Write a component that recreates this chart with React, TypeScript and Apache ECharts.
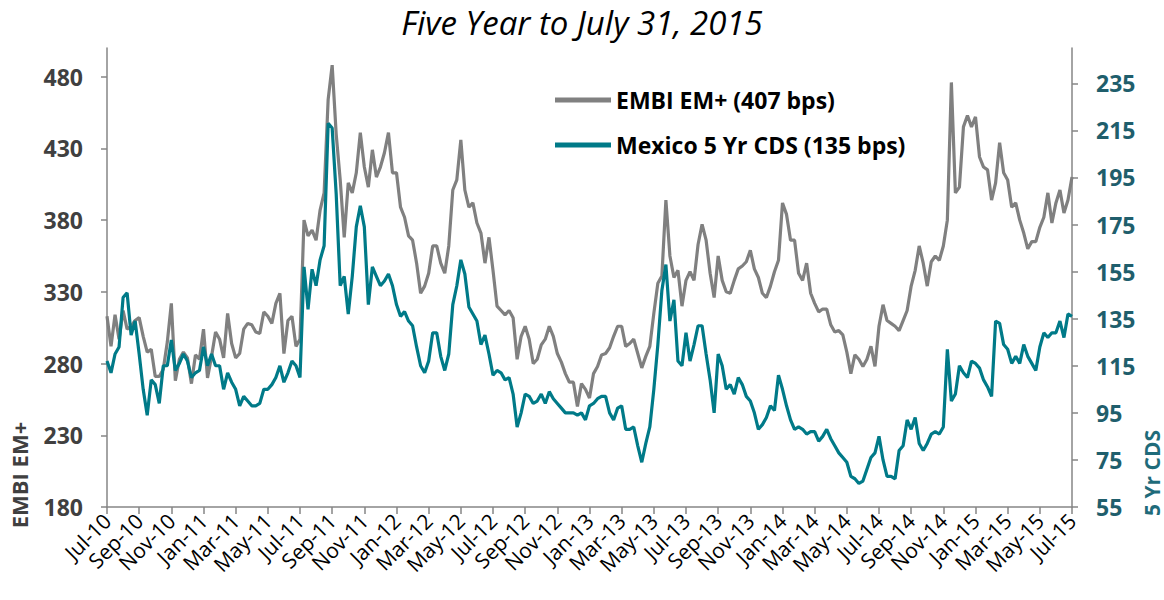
import React, { useEffect, useRef } from "react";
import * as echarts from "echarts";

// readings every quarter month, starting Jul-2010 (x = months since Jul-10)
const STEP = 0.25;
const xTickLabels = [
  "Jul-10", "Sep-10", "Nov-10", "Jan-11", "Mar-11", "May-11", "Jul-11", "Sep-11",
  "Nov-11", "Jan-12", "Mar-12", "May-12", "Jul-12", "Sep-12", "Nov-12", "Jan-13",
  "Mar-13", "May-13", "Jul-13", "Sep-13", "Nov-13", "Jan-14", "Mar-14", "May-14",
  "Jul-14", "Sep-14", "Nov-14", "Jan-15", "Mar-15", "May-15", "Jul-15",
];
const xTicks = xTickLabels.map((_, i) => i * 2);
const leftTicks = [180, 230, 280, 330, 380, 430, 480];
const rightTicks = [55, 75, 95, 115, 135, 155, 175, 195, 215, 235];

const embiName = "EMBI EM+ (407 bps)";
const cdsName = "Mexico 5 Yr CDS (135 bps)";

const embi = [
  313, 292, 314, 297,
  317, 304, 306, 310,
  312, 299, 288, 290,
  271, 271, 276, 295,
  322, 268, 283, 288,
  284, 266, 286, 283,
  304, 270, 285, 302,
  297, 284, 315, 294,
  284, 287, 304, 308,
  307, 302, 301, 316,
  313, 308, 322, 329,
  287, 310, 313, 292,
  297, 380, 369, 373,
  366, 387, 399, 464,
  488, 440, 408, 368,
  406, 399, 413, 441,
  417, 403, 429, 410,
  417, 427, 441, 413,
  413, 389, 382, 369,
  366, 350, 329, 334,
  343, 362, 362, 350,
  343, 362, 401, 408,
  436, 401, 389, 392,
  378, 371, 350, 368,
  345, 320, 317, 314,
  317, 312, 283, 299,
  306, 297, 280, 283,
  293, 297, 306, 299,
  287, 281, 273, 267,
  267, 250, 266, 262,
  256, 273, 278, 286,
  287, 291, 299, 306,
  306, 292, 294, 297,
  287, 277, 285, 292,
  315, 336, 341, 394,
  355, 340, 345, 320,
  338, 344, 338, 363,
  377, 366, 343, 326,
  355, 338, 330, 329,
  338, 346, 348, 351,
  359, 346, 340, 329,
  326, 334, 344, 352,
  392, 384, 366, 366,
  343, 338, 350, 329,
  322, 316, 318, 318,
  307, 302, 303, 300,
  288, 273, 286, 283,
  278, 283, 292, 278,
  306, 321, 310, 308,
  306, 303, 310, 317,
  334, 345, 362, 350,
  334, 351, 355, 352,
  362, 380, 476, 399,
  403, 445, 453, 445,
  452, 424, 417, 415,
  394, 406, 434, 413,
  408, 389, 392, 380,
  371, 360, 365, 365,
  375, 382, 399, 378,
  392, 401, 385, 394,
  410,
];

const cds = [
  117, 112, 120, 123,
  144, 146, 128, 134,
  120, 105, 94, 109,
  107, 99, 115, 115,
  126, 113, 116, 120,
  117, 110, 112, 113,
  123, 115, 120, 115,
  115, 105, 112, 108,
  105, 98, 102, 100,
  98, 98, 99, 105,
  105, 107, 110, 115,
  108, 112, 117, 115,
  110, 157, 139, 156,
  149, 160, 166, 218,
  216, 188, 149, 153,
  137, 153, 174, 183,
  174, 141, 157, 153,
  149, 151, 154, 149,
  141, 136, 138, 134,
  132, 123, 115, 112,
  117, 129, 129, 119,
  113, 120, 141, 149,
  160, 154, 140, 137,
  134, 124, 128, 120,
  111, 113, 112, 109,
  110, 103, 89, 95,
  103, 102, 99, 100,
  103, 99, 104, 101,
  99, 97, 95, 95,
  95, 94, 95, 92,
  98, 99, 101, 102,
  102, 95, 92, 97,
  98, 88, 88, 89,
  81, 74, 82, 89,
  105, 124, 147, 158,
  134, 143, 117, 115,
  129, 117, 124, 132,
  132, 120, 109, 95,
  120, 115, 105, 107,
  103, 110, 107, 102,
  100, 95, 88, 90,
  93, 98, 96, 111,
  105, 98, 92, 88,
  89, 88, 86, 87,
  87, 83, 85, 88,
  84, 81, 78, 76,
  74, 68, 67, 65,
  66, 71, 76, 78,
  85, 75, 68, 68,
  67, 79, 81, 92,
  88, 93, 82, 79,
  82, 86, 87, 86,
  89, 122, 100, 103,
  115, 112, 110, 117,
  116, 114, 109, 106,
  102, 134, 133, 124,
  122, 116, 119, 116,
  124, 119, 116, 113,
  123, 129, 127, 129,
  129, 134, 127, 137,
  136,
];

const GRAY = "#808080";
const TEAL = "#007A88";
const AXIS = "#868686";
const FONT = "Open Sans";

export default function App() {
  const ref = useRef<HTMLDivElement>(null);

  useEffect(() => {
    if (!ref.current) return;
    const chart = echarts.init(ref.current, undefined, { renderer: "svg" });
    const embiData = embi.map((v, i) => [i * STEP, v]);
    const cdsData = cds.map((v, i) => [i * STEP, v]);

    chart.setOption({
      animation: false,
      backgroundColor: "#fff",
      title: {
        text: "Five Year to July 31, 2015",
        left: "center",
        top: 1,
        textStyle: {
          fontFamily: FONT,
          fontStyle: "italic",
          fontWeight: "normal",
          fontSize: 33,
          color: "#000",
        },
      },
      legend: {
        orient: "vertical",
        left: 550,
        top: 80,
        icon: "rect",
        itemWidth: 56,
        itemHeight: 5,
        itemGap: 15,
        data: [embiName, cdsName],
        textStyle: {
          fontFamily: FONT,
          fontWeight: "bold",
          fontSize: 23,
          lineHeight: 30,
          color: "#000",
        },
      },
      grid: { left: 107, right: 92, top: 48, bottom: 93, containLabel: false },
      xAxis: {
        type: "value",
        min: 0,
        max: 60,
        interval: 2,
        splitLine: { show: false },
        axisLine: { lineStyle: { color: AXIS, width: 1.5 } },
        axisTick: { length: 7, lineStyle: { color: AXIS, width: 1.5 } },
        axisLabel: {
          rotate: 45,
          margin: 10,
          fontFamily: FONT,
          fontSize: 21,
          color: "#000",
          formatter: (v: number) => xTickLabels[Math.round(v / 2)] ?? "",
          customValues: xTicks,
        },
      },
      yAxis: [
        {
          type: "value",
          min: 180,
          max: 500,
          position: "left",
          splitLine: { show: false },
          axisLine: { show: true, lineStyle: { color: AXIS, width: 1.5 } },
          axisTick: {
            show: true,
            length: 6,
            lineStyle: { color: AXIS, width: 1.5 },
            customValues: leftTicks,
          },
          axisLabel: {
            margin: 24,
            fontFamily: FONT,
            fontWeight: "bold",
            fontSize: 23,
            color: "#404040",
            customValues: leftTicks,
          },
        },
        {
          type: "value",
          min: 55,
          max: 250,
          position: "right",
          splitLine: { show: false },
          axisLine: { show: true, lineStyle: { color: AXIS, width: 1.5 } },
          axisTick: {
            show: true,
            length: 6,
            lineStyle: { color: AXIS, width: 1.5 },
            customValues: rightTicks,
          },
          axisLabel: {
            margin: 24,
            fontFamily: FONT,
            fontWeight: "bold",
            fontSize: 23,
            color: "#1F5E6C",
            customValues: rightTicks,
          },
        },
      ],
      graphic: [
        {
          type: "text",
          x: 19,
          y: 475,
          rotation: Math.PI / 2,
          style: {
            text: "EMBI EM+",
            fontFamily: FONT,
            fontWeight: "bold",
            fontSize: 22,
            fill: "#404040",
            align: "center",
            verticalAlign: "middle",
          },
        },
        {
          type: "text",
          x: 1152,
          y: 473,
          rotation: Math.PI / 2,
          style: {
            text: "5 Yr CDS",
            fontFamily: FONT,
            fontWeight: "bold",
            fontSize: 21,
            fill: "#1F6B7A",
            align: "center",
            verticalAlign: "middle",
          },
        },
      ],
      series: [
        {
          name: embiName,
          type: "line",
          yAxisIndex: 0,
          data: embiData,
          showSymbol: false,
          symbol: "none",
          color: GRAY,
          lineStyle: { color: GRAY, width: 3.2 },
        },
        {
          name: cdsName,
          type: "line",
          yAxisIndex: 1,
          data: cdsData,
          showSymbol: false,
          symbol: "none",
          color: TEAL,
          lineStyle: { color: TEAL, width: 3.2 },
        },
      ],
    });

    return () => chart.dispose();
  }, []);

  return (
    <div
      ref={ref}
      style={{ position: "fixed", left: 0, top: 0, width: 1164, height: 600 }}
    />
  );
}
